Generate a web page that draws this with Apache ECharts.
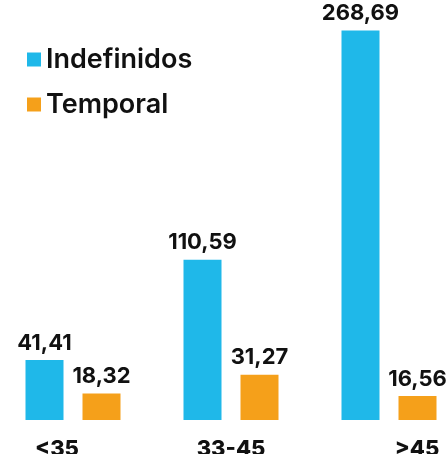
<!DOCTYPE html>
<html>
<head>
<meta charset="utf-8">
<script src="https://cdn.jsdelivr.net/npm/echarts@6/dist/echarts.min.js"></script>
<style>
  html, body { margin: 0; padding: 0; background: #fff; }
  #main { width: 448px; height: 454px; }
</style>
</head>
<body>
<div id="main"></div>
<script>
// datos del gráfico
var categorias = ['<35', '33-45', '>45'];
var indefinidos = [41.41, 110.59, 268.69];
var temporal = [18.32, 31.27, 16.56];

var fuente = 'Inter, "Open Sans", sans-serif';

// desplazamiento horizontal de cada etiqueta del eje
var desplaz = [-16, 0, 28];

function coma(p) {
    return p.value.toFixed(2).replace('.', ',');
}

var myChart = echarts.init(document.getElementById('main'));
myChart.setOption({
    animation: false,
    legend: {
        orient: 'vertical',
        left: 22,
        top: 41,
        icon: 'rect',
        itemWidth: 14,
        itemHeight: 14,
        itemGap: 18,
        textStyle: { fontFamily: fuente, fontSize: 27, fontWeight: 600, color: '#111' }
    },
    grid: {
        left: -6, width: 474, top: 30, bottom: 34,
        containLabel: false,
        outerBoundsMode: 'none'
    },
    xAxis: {
        type: 'category',
        data: categorias.map(function (c, i) {
            var d = desplaz[i];
            return {
                value: c,
                textStyle: { padding: d < 0 ? [0, -2 * d, 0, 0] : [0, 0, 0, 2 * d] }
            };
        }),
        axisLine: { show: false },
        axisTick: { show: false },
        axisLabel: {
            margin: 18,
            fontFamily: fuente,
            fontSize: 22,
            fontWeight: 800,
            color: '#111'
        }
    },
    yAxis: {
        type: 'value',
        show: false,
        min: 0,
        max: 269,
        splitLine: { show: false }
    },
    series: [
        {
            name: 'Indefinidos',
            type: 'bar',
            data: indefinidos,
            barWidth: 38,
            barGap: '50%',
            itemStyle: { color: '#1FB8E9' },
            label: {
                show: true, position: 'top', distance: 6, formatter: coma,
                fontFamily: fuente, fontSize: 22, fontWeight: 700, color: '#111'
            }
        },
        {
            name: 'Temporal',
            type: 'bar',
            data: temporal,
            barWidth: 38,
            barGap: '50%',
            itemStyle: { color: '#F5A01A' },
            label: {
                show: true, position: 'top', distance: 6, formatter: coma,
                fontFamily: fuente, fontSize: 22, fontWeight: 700, color: '#111'
            }
        }
    ]
});
</script>
</body>
</html>
